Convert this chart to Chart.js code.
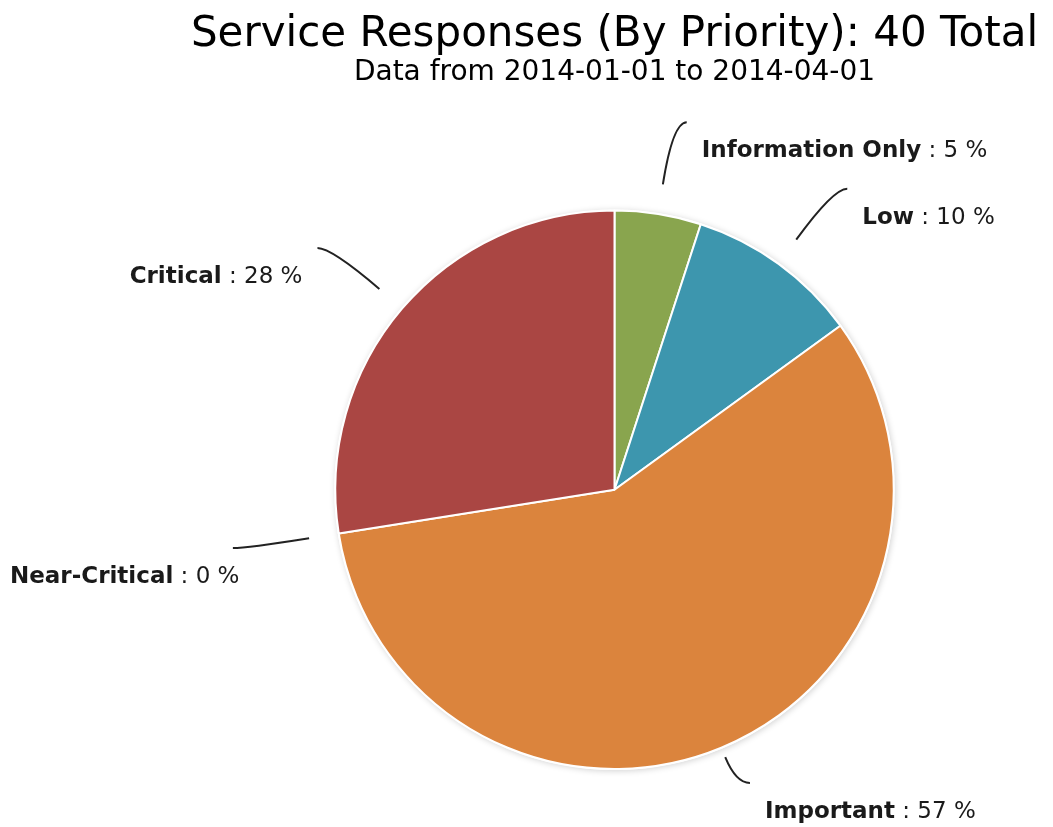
<!DOCTYPE html>
<html>
<head>
<meta charset="utf-8">
<script src="https://cdn.jsdelivr.net/npm/chart.js@4.4.1/dist/chart.umd.min.js"></script>
<style>
  body { margin: 0; background: #fff; }
  #wrap { width: 1053px; height: 827px; }
</style>
</head>
<body>
<div id="wrap"><canvas id="pie"></canvas></div>
<script>
// Service responses by priority
const priorities = ['Information Only', 'Low', 'Important', 'Near-Critical', 'Critical'];
const responses = [2, 4, 23, 0, 11];
const sliceColors = ['#89A54E', '#3D96AE', '#DB843D', '#80699B', '#AA4643'];
const chartTitle = 'Service Responses (By Priority): 40 Total';
const chartSubtitle = 'Data from 2014-01-01 to 2014-04-01';

const FONT = '"DejaVu Sans", Verdana, sans-serif';
const LABEL_SIZE = 23;

// soft shadow under the pie, like the original
const pieShadow = {
    id: 'pieShadow',
    beforeDatasetsDraw(chart) {
        const arc = chart.getDatasetMeta(0).data[0];
        if (!arc) return;
        const { x, y, outerRadius } = arc.getProps(['x', 'y', 'outerRadius'], true);
        const ctx = chart.ctx;
        ctx.save();
        ctx.shadowColor = 'rgba(0,0,0,0.18)';
        ctx.shadowBlur = 6;
        ctx.shadowOffsetX = 1;
        ctx.shadowOffsetY = 1;
        ctx.fillStyle = '#fff';
        ctx.beginPath();
        ctx.arc(x, y, outerRadius + 1, 0, Math.PI * 2);
        ctx.fill();
        ctx.restore();
    }
};

// outside labels with curved connectors
const sliceLabels = {
    id: 'sliceLabels',
    afterDatasetsDraw(chart) {
        const ctx = chart.ctx;
        const meta = chart.getDatasetMeta(0);
        const total = responses.reduce((a, b) => a + b, 0);
        const drop = 29;
        const maxY = chart.height - 15 - drop;
        ctx.save();
        meta.data.forEach((arc, i) => {
            const { x, y, startAngle, endAngle, outerRadius } =
                arc.getProps(['x', 'y', 'startAngle', 'endAngle', 'outerRadius'], true);
            const mid = (startAngle + endAngle) / 2;
            const cos = Math.cos(mid), sin = Math.sin(mid);
            let r1 = outerRadius + 93;
            if (sin > 0) r1 = Math.min(r1, (maxY - y) / sin);
            const r0 = Math.min(outerRadius + 30, r1 - 28);
            const side = cos >= 0 ? 1 : -1;
            const sx = x + cos * r0, sy = y + sin * r0;
            const cx = x + cos * r1, cy = y + sin * r1;
            const ex = cx + side * 14, ey = cy;

            ctx.strokeStyle = '#222';
            ctx.lineWidth = 2;
            ctx.beginPath();
            ctx.moveTo(sx, sy);
            ctx.quadraticCurveTo(cx, cy, ex, ey);
            ctx.stroke();

            const pct = Math.round(responses[i] / total * 100);
            const name = priorities[i];
            const rest = ' : ' + pct + ' %';
            ctx.textBaseline = 'middle';
            ctx.textAlign = 'left';
            ctx.font = 'bold ' + LABEL_SIZE + 'px ' + FONT;
            const w1 = ctx.measureText(name).width;
            ctx.font = LABEL_SIZE + 'px ' + FONT;
            const w2 = ctx.measureText(rest).width;
            const ly = ey + drop;
            let lx = side > 0 ? ex + 15 : ex - 15 - w1 - w2;
            lx = Math.max(10, Math.min(lx, chart.width - 10 - w1 - w2));
            ctx.fillStyle = '#1a1a1a';
            ctx.font = 'bold ' + LABEL_SIZE + 'px ' + FONT;
            ctx.fillText(name, lx, ly);
            ctx.font = LABEL_SIZE + 'px ' + FONT;
            ctx.fillText(rest, lx + w1, ly);
        });
        ctx.restore();
    }
};

new Chart(document.getElementById('pie'), {
    type: 'pie',
    data: {
        labels: priorities,
        datasets: [{
            data: responses,
            backgroundColor: sliceColors,
            borderColor: '#fff',
            borderWidth: 2,
        }],
    },
    options: {
        responsive: true,
        maintainAspectRatio: false,
        animation: false,
        layout: {
            padding: { left: 176, right: 0, top: 0, bottom: 57 },
        },
        plugins: {
            legend: { display: false },
            tooltip: { enabled: false },
            title: {
                display: true,
                text: chartTitle,
                color: '#000',
                font: { family: FONT, size: 42, weight: 'normal', lineHeight: 1 },
                padding: { top: 14, bottom: 0 },
            },
            subtitle: {
                display: true,
                text: chartSubtitle,
                color: '#000',
                font: { family: FONT, size: 28, weight: 'normal' },
                padding: { top: 0, bottom: 120 },
            },
        },
    },
    plugins: [pieShadow, sliceLabels],
});
</script>
</body>
</html>
